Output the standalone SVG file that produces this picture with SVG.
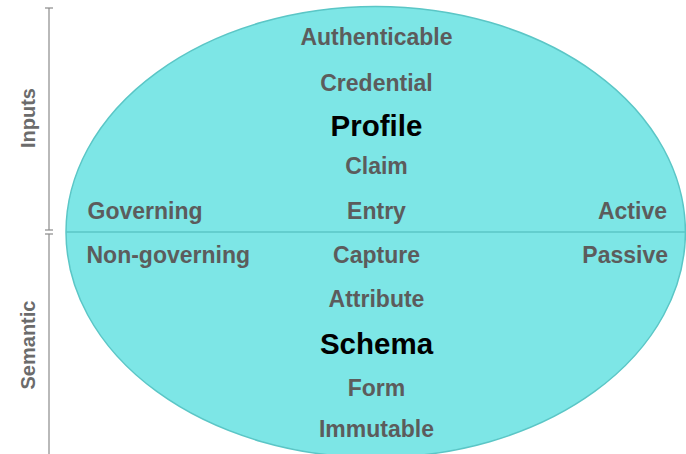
<svg xmlns="http://www.w3.org/2000/svg" width="686" height="454" viewBox="0 0 686 454">
<style>
.t{font-family:"Liberation Sans",Arial,Helvetica,sans-serif;font-weight:bold;font-size:23px;fill:#5c5c5c}
.c{text-anchor:middle}
.big{font-size:29.5px;fill:#000}
.ax{font-family:"Liberation Sans",Arial,Helvetica,sans-serif;font-weight:bold;font-size:20px;fill:#6b6b6b;text-anchor:middle}
.axl{stroke:#8a8a8a;stroke-width:1.2;fill:none}
</style>
<rect width="686" height="454" fill="#fff"/>
<g id="axis">
<line class="axl" x1="49" y1="8" x2="49" y2="230"/>
<line class="axl" x1="45" y1="8" x2="53" y2="8"/>
<line class="axl" x1="45" y1="230" x2="53" y2="230"/>
<line class="axl" x1="49" y1="234" x2="49" y2="454"/>
<line class="axl" x1="45" y1="234" x2="53" y2="234"/>
<text class="ax" transform="translate(35,118) rotate(-90)">Inputs</text>
<text class="ax" transform="translate(35,345) rotate(-90)">Semantic</text>
</g>
<g id="ellipse">
<ellipse cx="375.7" cy="232" rx="309.7" ry="225.5" fill="#7de6e6" stroke="#5bc6c6" stroke-width="1.5"/>
<line x1="66" y1="232" x2="685.4" y2="232" stroke="#5bc6c6" stroke-width="1.5"/>
</g>
<g id="labels">
<text class="t c" x="376.5" y="45">Authenticable</text>
<text class="t c" x="376.5" y="91">Credential</text>
<text class="t c big" x="376.5" y="136">Profile</text>
<text class="t c" x="376.5" y="174">Claim</text>
<text class="t c" x="376.5" y="218.5">Entry</text>
<text class="t" x="87.5" y="218.5">Governing</text>
<text class="t" x="667" y="218.5" text-anchor="end">Active</text>
<text class="t c" x="376.5" y="263">Capture</text>
<text class="t" x="86.5" y="263">Non-governing</text>
<text class="t" x="668" y="263" text-anchor="end">Passive</text>
<text class="t c" x="376.5" y="307">Attribute</text>
<text class="t c big" x="376.5" y="354">Schema</text>
<text class="t c" x="376.5" y="396">Form</text>
<text class="t c" x="376.5" y="437">Immutable</text>
</g>
</svg>
